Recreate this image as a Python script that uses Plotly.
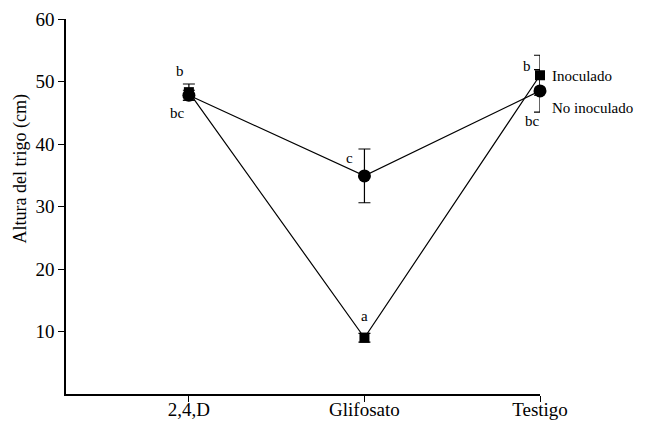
import plotly.graph_objects as go

categories = ["2,4,D", "Glifosato", "Testigo"]
inoculado = [48.3, 9.0, 51.0]
inoculado_err = [1.3, 0.7, 3.2]
no_inoculado = [47.8, 34.9, 48.5]
no_inoculado_err = [0.8, 4.3, 3.4]
letters_inoc = ["b", "a", "b"]
letters_noinoc = ["bc", "c", "bc"]
series_names = ["Inoculado", "No inoculado"]
y_ticks = [10, 20, 30, 40, 50, 60]

FONT = "Liberation Serif"
xpos = list(range(len(categories)))

fig = go.Figure()
fig.add_trace(go.Scatter(
    x=xpos, y=no_inoculado, mode="lines+markers", name=series_names[1],
    line=dict(color="black", width=1.2), cliponaxis=False,
    marker=dict(symbol="circle", size=13, color="black"),
    error_y=dict(type="data", array=no_inoculado_err, color="black", thickness=1.2, width=6),
))
fig.add_trace(go.Scatter(
    x=xpos, y=inoculado, mode="lines+markers", name=series_names[0],
    line=dict(color="black", width=1.2), cliponaxis=False,
    marker=dict(symbol="square", size=10, color="black"),
    error_y=dict(type="data", array=inoculado_err, color="black", thickness=1.2, width=6),
))

ann = []
inoc_off = [(-9, 21), (0, 22), (-13, 9)]
noinoc_off = [(-11, -18), (-15, 18), (-8, -30)]
for i in xpos:
    ann.append(dict(x=i, y=inoculado[i], text=letters_inoc[i], showarrow=False,
                    xshift=inoc_off[i][0], yshift=inoc_off[i][1],
                    font=dict(family=FONT, size=15, color="black")))
    ann.append(dict(x=i, y=no_inoculado[i], text=letters_noinoc[i], showarrow=False,
                    xshift=noinoc_off[i][0], yshift=noinoc_off[i][1],
                    font=dict(family=FONT, size=15, color="black")))
last = len(categories) - 1
ann.append(dict(x=last, y=inoculado[last], text=series_names[0], showarrow=False,
                xanchor="left", xshift=10, yshift=-1,
                font=dict(family=FONT, size=15, color="black")))
ann.append(dict(x=last, y=no_inoculado[last], text=series_names[1], showarrow=False,
                xanchor="left", xshift=10, yshift=-17,
                font=dict(family=FONT, size=15, color="black")))
ann.append(dict(xref="paper", yref="paper", x=-0.098, y=0.6, xanchor="center", yanchor="middle",
                text="Altura del trigo (cm)", textangle=-90, showarrow=False,
                font=dict(family=FONT, size=18, color="black")))

fig.update_layout(
    width=646, height=423,
    margin=dict(l=66, r=106, t=19, b=29, autoexpand=False),
    paper_bgcolor="white", plot_bgcolor="white",
    showlegend=False,
    font=dict(family=FONT, color="black"),
    annotations=ann,
    xaxis=dict(range=[-0.7, 2], tickvals=xpos, ticktext=categories, showgrid=False,
               zeroline=False, showline=True, linecolor="black", linewidth=1.5,
               ticks="outside", ticklen=6, tickcolor="black", tickwidth=1.2, automargin=False,
               ticklabelstandoff=-9,
               tickfont=dict(family=FONT, size=19, color="black")),
    yaxis=dict(range=[0, 60], tickvals=y_ticks, showgrid=False, zeroline=False,
               showline=True, linecolor="black", linewidth=1.5,
               ticks="outside", ticklen=6, tickcolor="black", tickwidth=1.2, automargin=False,
               tickfont=dict(family=FONT, size=19, color="black")),
)

fig.write_html("out.html", config={"displayModeBar": False},
               post_script="document.body.style.margin='0';document.body.style.overflow='hidden';")
